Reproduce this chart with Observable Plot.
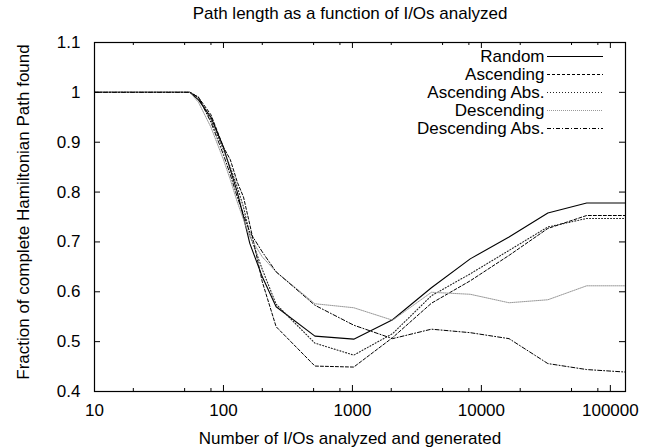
<!DOCTYPE html>
<html><head><meta charset="utf-8">
<script src="https://cdn.jsdelivr.net/npm/d3@7"></script>
<script src="https://cdn.jsdelivr.net/npm/@observablehq/plot@0.6"></script>
<style>html,body{margin:0;padding:0;background:#fff}</style>
</head><body><div id="chart"></div>
<script>
// ---- data ----
const title = "Path length as a function of I/Os analyzed";
const xLabel = "Number of I/Os analyzed and generated";
const yLabel = "Fraction of complete Hamiltonian Path found";

const ios = [10, 55, 64, 80, 100, 113, 128, 143, 160, 200, 256, 512, 1024, 2048, 4096, 8192, 16384, 32768, 65536, 131072];
const seriesNames = ["Random", "Ascending", "Ascending Abs.", "Descending", "Descending Abs."];
const random        = [1, 1, 0.985, 0.95, 0.89, 0.845, 0.80, 0.75, 0.697, 0.63, 0.57, 0.511, 0.505, 0.544, 0.608, 0.666, 0.710, 0.758, 0.778, 0.778];
const ascending     = [1, 1, 0.99, 0.955, 0.89, 0.865, 0.82, 0.79, 0.735, 0.62, 0.53, 0.451, 0.449, 0.508, 0.577, 0.622, 0.673, 0.727, 0.753, 0.753];
const ascendingAbs  = [1, 1, 0.99, 0.945, 0.885, 0.85, 0.81, 0.77, 0.715, 0.645, 0.575, 0.497, 0.473, 0.516, 0.592, 0.636, 0.683, 0.730, 0.747, 0.747];
const descending    = [1, 1, 0.98, 0.93, 0.865, 0.825, 0.78, 0.745, 0.71, 0.67, 0.64, 0.576, 0.568, 0.543, 0.599, 0.595, 0.578, 0.584, 0.612, 0.612];
const descendingAbs = [1, 1, 0.99, 0.94, 0.875, 0.835, 0.79, 0.755, 0.72, 0.68, 0.64, 0.573, 0.533, 0.506, 0.525, 0.518, 0.506, 0.456, 0.444, 0.439];
const seriesValues = [random, ascending, ascendingAbs, descending, descendingAbs];

const xMajorTicks = [10, 100, 1000, 10000, 100000];
const xMinorTicks = [20, 50, 80, 200, 500, 800, 2000, 5000, 8000, 20000, 50000, 80000];
const yTicks = [0.4, 0.5, 0.6, 0.7, 0.8, 0.9, 1.0, 1.1];
const xDomain = [10, 131072];
const yDomain = [0.4, 1.1];

// ---- styles ----
const lineStyles = [
  {stroke: "#000", dash: null, width: 1.1},
  {stroke: "#000", dash: "3,2", width: 1},
  {stroke: "#222", dash: "1,2", width: 1.1},
  {stroke: "#999", dash: "1,1", width: 1},
  {stroke: "#000", dash: "4,2,1,2", width: 1}
];

const W = 657, H = 448;
const mL = 94, mR = 32, mT = 42, mB = 57;
const fw = W - mL - mR, fh = H - mT - mB;
const font = "'Liberation Sans', Arial, Helvetica, sans-serif";
const fs = 17;

const rows = seriesNames.map((name, i) => ios.map((x, j) => ({series: name, x, y: seriesValues[i][j]})));

const marks = [];
rows.forEach((r, i) => {
  const s = lineStyles[i];
  marks.push(Plot.line(r, {x: "x", y: "y", stroke: s.stroke, strokeWidth: s.width, strokeDasharray: s.dash}));
});
const maj = 6, mnr = 3;
marks.push(Plot.ruleX(xMajorTicks, {stroke: "#000", insetTop: fh - maj}));
marks.push(Plot.ruleX(xMajorTicks, {stroke: "#000", insetBottom: fh - maj}));
marks.push(Plot.ruleX(xMinorTicks, {stroke: "#000", insetTop: fh - mnr}));
marks.push(Plot.ruleX(xMinorTicks, {stroke: "#000", insetBottom: fh - mnr}));
marks.push(Plot.ruleY(yTicks, {stroke: "#000", insetRight: fw - maj}));
marks.push(Plot.ruleY(yTicks, {stroke: "#000", insetLeft: fw - maj}));
marks.push(Plot.axisX(xMajorTicks, {tickSize: 0, tickPadding: 12, fontSize: fs, tickFormat: d => String(d), label: null}));
marks.push(Plot.axisY(yTicks, {tickSize: 0, tickPadding: 14, fontSize: fs, tickFormat: d => String(+d.toFixed(1)), label: null}));
marks.push(Plot.frame({stroke: "#000", strokeWidth: 1.2}));
marks.push(Plot.text([title], {frameAnchor: "top", dy: 13 - mT, dx: -10, textAnchor: "middle", lineAnchor: "middle", fontSize: fs, fill: "#000"}));
marks.push(Plot.text([xLabel], {frameAnchor: "bottom", dy: 47, dx: -10, textAnchor: "middle", lineAnchor: "middle", fontSize: fs, fill: "#000"}));
marks.push(Plot.text([yLabel], {frameAnchor: "left", rotate: -90, dx: 23 - mL, dy: -5, textAnchor: "middle", lineAnchor: "middle", fontSize: fs, fill: "#000"}));
seriesNames.forEach((name, i) => {
  const s = lineStyles[i];
  const dy = 14 + 18 * i;
  marks.push(Plot.text([name], {frameAnchor: "top-right", dx: -(W - mR - 544), dy, textAnchor: "end", lineAnchor: "middle", fontSize: fs, fill: "#000"}));
  marks.push(Plot.ruleY([yDomain[1]], {dy, insetLeft: 547 - mL, insetRight: W - mR - 603, stroke: s.stroke, strokeWidth: s.width, strokeDasharray: s.dash}));
});

const chart = Plot.plot({
  width: W, height: H,
  marginLeft: mL, marginRight: mR, marginTop: mT, marginBottom: mB,
  x: {type: "log", domain: xDomain, axis: null},
  y: {domain: yDomain, axis: null},
  style: {fontFamily: font, fontSize: fs + "px", color: "#000", background: "#fff", overflow: "visible"},
  marks
});
document.getElementById("chart").appendChild(chart);
</script>
</body></html>
